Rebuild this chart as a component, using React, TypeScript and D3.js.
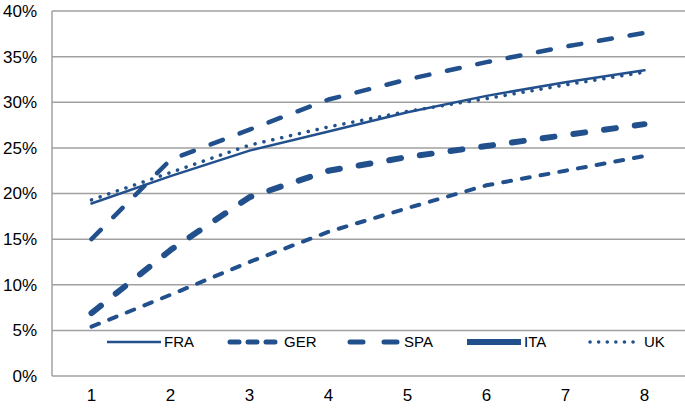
import { useEffect, useRef } from "react";
import * as d3 from "d3";

const categories = ["1", "2", "3", "4", "5", "6", "7", "8"];
const fra = [18.9, 21.9, 24.7, 26.8, 28.9, 30.7, 32.2, 33.5];
const ger = [5.4, 8.9, 12.5, 15.8, 18.4, 20.9, 22.5, 24.1];
const spa = [15.0, 23.7, 27.0, 30.3, 32.5, 34.4, 36.1, 37.6];
const ita = [6.9, 13.8, 19.6, 22.5, 24.0, 25.2, 26.4, 27.6];
const uk = [19.3, 22.3, 25.3, 27.3, 29.0, 30.4, 31.9, 33.3];
const yTicks = [0, 5, 10, 15, 20, 25, 30, 35, 40];

const COLOR = "#22508c";

interface Series {
  name: string;
  values: number[];
  width: number;
  dash: string | null;
  legendDash: string | null;
  legendWidth: number;
}

const series: Series[] = [
  { name: "FRA", values: fra, width: 2.5, dash: null, legendDash: null, legendWidth: 2.5 },
  { name: "GER", values: ger, width: 4, dash: "8,11", legendDash: "9,9", legendWidth: 5 },
  { name: "SPA", values: spa, width: 4.5, dash: "13,18", legendDash: "13,21", legendWidth: 5 },
  { name: "ITA", values: ita, width: 6, dash: "12,19", legendDash: null, legendWidth: 6 },
  { name: "UK", values: uk, width: 3.5, dash: "0.1,9", legendDash: "0.1,8.5", legendWidth: 3.5 },
];

export default function App() {
  const svgRef = useRef<SVGSVGElement>(null);

  useEffect(() => {
    if (!svgRef.current) return;
    const svg = d3.select(svgRef.current);
    svg.selectAll("*").remove();

    const width = 685;
    const height = 409;
    const left = 52;
    const right = 684;
    const top = 11;
    const bottom = 376;

    const x = d3.scaleBand().domain(categories).range([left, right]);
    const y = d3.scaleLinear().domain([0, 40]).range([bottom, top]);

    svg.attr("width", width).attr("height", height);

    // gridlines
    svg
      .append("g")
      .selectAll("line")
      .data(yTicks)
      .enter()
      .append("line")
      .attr("x1", left)
      .attr("x2", right + 1)
      .attr("y1", (d) => y(d))
      .attr("y2", (d) => y(d))
      .attr("stroke", "#a0a0a0")
      .attr("stroke-width", 1.5);

    // y axis line
    svg
      .append("line")
      .attr("x1", left)
      .attr("x2", left)
      .attr("y1", y(40))
      .attr("y2", y(0))
      .attr("stroke", "#a0a0a0")
      .attr("stroke-width", 1.5);

    // y labels
    svg
      .append("g")
      .selectAll("text")
      .data(yTicks)
      .enter()
      .append("text")
      .attr("x", 37)
      .attr("y", (d) => y(d))
      .attr("dy", "0.35em")
      .attr("text-anchor", "end")
      .attr("font-family", "Liberation Sans, Arial, sans-serif")
      .attr("font-size", 17)
      .attr("fill", "#000")
      .text((d) => `${d}%`);

    // x labels
    svg
      .append("g")
      .selectAll("text")
      .data(categories)
      .enter()
      .append("text")
      .attr("x", (d) => x(d)! + x.bandwidth() / 2)
      .attr("y", 401)
      .attr("text-anchor", "middle")
      .attr("font-family", "Liberation Sans, Arial, sans-serif")
      .attr("font-size", 17)
      .attr("fill", "#000")
      .text((d) => d);

    const line = d3
      .line<number>()
      .x((_, i) => x(categories[i])! + x.bandwidth() / 2)
      .y((d) => y(d));

    series.forEach((s) => {
      const p = svg
        .append("path")
        .attr("d", line(s.values))
        .attr("fill", "none")
        .attr("stroke", COLOR)
        .attr("stroke-width", s.width)
        .attr("stroke-linejoin", "round")
        .attr("stroke-linecap", "round");
      if (s.dash) p.attr("stroke-dasharray", s.dash);
    });

    // legend
    const legend = svg.append("g").attr("transform", "translate(107,342)");
    series.forEach((s, i) => {
      const g = legend.append("g").attr("transform", `translate(${i * 120},0)`);
      const l = g
        .append("line")
        .attr("x1", s.legendDash ? 3 : 0)
        .attr("x2", s.legendDash ? 52 : 54)
        .attr("y1", 0)
        .attr("y2", 0)
        .attr("stroke", COLOR)
        .attr("stroke-width", s.legendWidth)
        .attr("stroke-linecap", s.legendDash ? "round" : "butt");
      if (s.legendDash) l.attr("stroke-dasharray", s.legendDash);
      g.append("text")
        .attr("x", 57)
        .attr("y", 0)
        .attr("dy", "0.36em")
        .attr("font-family", "Liberation Sans, Arial, sans-serif")
        .attr("font-size", 15)
        .attr("fill", "#000")
        .text(s.name);
    });
  }, []);

  return (
    <svg
      ref={svgRef}
      style={{ position: "absolute", left: 0, top: 0, display: "block" }}
    ></svg>
  );
}
